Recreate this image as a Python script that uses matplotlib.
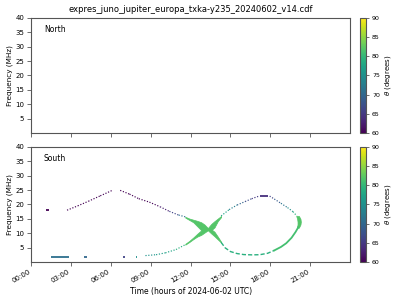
import matplotlib
matplotlib.use("Agg")
import matplotlib.pyplot as plt
from matplotlib.collections import LineCollection
from matplotlib.colors import Normalize
from matplotlib.cm import ScalarMappable
import numpy as np

title = "expres_juno_jupiter_europa_txka-y235_20240602_v14.cdf"
hour_ticks = [0, 3, 6, 9, 12, 15, 18, 21]
hour_labels = ["00:00", "03:00", "06:00", "09:00", "12:00", "15:00", "18:00", "21:00"]
freq_ticks = [5, 10, 15, 20, 25, 30, 35, 40]
theta_ticks = [60, 65, 70, 75, 80, 85, 90]

# short flat pieces: start hour, end hour, frequency (MHz), theta (deg)
dash_t0 = [1.1, 1.5, 4.0, 6.9, 7.9, 17.25]
dash_t1 = [1.35, 2.85, 4.2, 7.05, 7.98, 17.85]
dash_f = [18.2, 1.75, 1.6, 1.6, 1.75, 23.1]
dash_th = [60, 71, 70, 66, 75, 64]

# dotted branches (hour, MHz, theta)
ul1_t = [2.7, 3.5, 4.3, 5.2, 6.1]
ul1_f = [18.0, 19.5, 21.1, 23.0, 24.9]
ul1_th = [60, 60, 60, 60, 60]

ul2_t = [6.7, 7.4, 8.1, 8.9, 9.7, 10.4, 11.1, 11.6]
ul2_f = [24.9, 23.6, 22.0, 20.8, 19.2, 17.6, 16.3, 15.7]
ul2_th = [60, 60, 60, 60, 61, 64, 68, 74]

ll_t = [8.6, 9.4, 10.1, 10.9, 11.6]
ll_f = [2.2, 2.5, 3.15, 4.3, 6.0]
ll_th = [75, 76, 77, 78, 80]

ur1_t = [14.3, 14.9, 15.5, 16.1, 16.6, 17.15]
ur1_f = [16.0, 18.2, 19.8, 21.0, 22.0, 22.9]
ur1_th = [79, 75, 71, 68, 66, 64]

ur2_t = [17.95, 18.3, 18.8, 19.3, 19.7, 20.0]
ur2_f = [22.9, 21.9, 20.4, 18.9, 17.5, 16.0]
ur2_th = [65, 67, 70, 73, 77, 81]

# lower right arm
lr1_t = [14.3, 14.6, 15.0, 15.5, 16.0, 16.6, 17.2, 17.8, 18.3]
lr1_f = [6.8, 4.9, 3.6, 2.9, 2.55, 2.45, 2.5, 3.0, 4.0]
lr1_th = 79
lr2_t = [18.3, 18.8, 19.2, 19.6, 19.9, 20.1]
lr2_f = [4.0, 5.2, 6.5, 8.4, 10.4, 12.0]
lr2_th = 81

# thick crossing region near 13:20
lens_t = [11.6, 11.9, 12.2, 12.5, 12.8, 13.05, 13.3, 13.55, 13.8, 14.05, 14.3]
up_hi = [15.7, 15.1, 14.7, 14.3, 13.8, 13.0, 11.8, 13.2, 14.2, 15.1, 16.0]
up_lo = [15.4, 14.6, 13.8, 12.4, 11.0, 10.8, 11.2, 11.0, 12.0, 14.2, 15.6]
lo_lo = [6.0, 6.9, 7.9, 8.8, 9.4, 10.2, 11.0, 9.9, 8.9, 7.8, 6.7]
lo_hi = [6.3, 7.3, 8.5, 9.8, 11.0, 11.5, 11.6, 11.4, 10.5, 8.8, 7.0]
lens_th = 82

# thick right edge of the loop near 20:10
edge_f = [11.9, 13.0, 14.0, 15.0, 16.0]
edge_t0 = [20.0, 20.05, 20.05, 20.02, 19.95]
edge_t1 = [20.15, 20.27, 20.3, 20.27, 20.15]

cmap = plt.get_cmap("viridis")
norm = Normalize(vmin=60, vmax=90)
spine_col = "#555555"

fig = plt.figure(figsize=(4, 3), dpi=100)
ax_n = fig.add_axes([0.078, 0.557, 0.797, 0.383])
ax_s = fig.add_axes([0.078, 0.127, 0.797, 0.383])
cax_n = fig.add_axes([0.9, 0.557, 0.016, 0.383])
cax_s = fig.add_axes([0.9, 0.127, 0.016, 0.383])


def dotted(ax, t, f, th):
    pts = np.column_stack([t, f])
    segs = np.stack([pts[:-1], pts[1:]], axis=1)
    mid = (np.array(th[:-1]) + np.array(th[1:])) / 2
    lc = LineCollection(segs, colors=cmap(norm(mid)), linewidths=0.85,
                        linestyles=[(0, (1, 1.4))])
    ax.add_collection(lc)


for ax, name in [(ax_n, "North"), (ax_s, "South")]:
    ax.set_xlim(0, 24)
    ax.set_ylim(0, 40)
    ax.set_xticks(hour_ticks)
    ax.set_yticks(freq_ticks)
    ax.tick_params(labelsize=5, length=3, width=0.6, color=spine_col, pad=2)
    for sp in ax.spines.values():
        sp.set_color(spine_col)
        sp.set_linewidth(0.8)
    ax.set_ylabel("Frequency (MHz)", fontsize=5.2, labelpad=1.5)
    ax.text(0.04, 0.9, name, transform=ax.transAxes, fontsize=5.5, va="center")

ax_n.set_xticklabels([])
ax_s.set_xticklabels(hour_labels, rotation=30, ha="right")
ax_s.set_xlabel("Time (hours of 2024-06-02 UTC)", fontsize=5.5, labelpad=2)
ax_n.set_title(title, fontsize=6.0, pad=4)

# south emission
for t0, t1, f, th in zip(dash_t0, dash_t1, dash_f, dash_th):
    ax_s.hlines(f, t0, t1, colors=[cmap(norm(th))], linewidth=1.3)

dotted(ax_s, ul1_t, ul1_f, ul1_th)
dotted(ax_s, ul2_t, ul2_f, ul2_th)
dotted(ax_s, ll_t, ll_f, ll_th)
dotted(ax_s, ur1_t, ur1_f, ur1_th)
dotted(ax_s, ur2_t, ur2_f, ur2_th)

green = cmap(norm(lens_th))
ax_s.plot(lr1_t, lr1_f, color=cmap(norm(lr1_th)), lw=1.0, ls=(0, (3, 1.5)))
ax_s.plot(lr2_t, lr2_f, color=cmap(norm(lr2_th)), lw=1.3)
ax_s.fill_between(lens_t, up_lo, up_hi, color=green, lw=0.5, ec=green)
ax_s.fill_between(lens_t, lo_lo, lo_hi, color=green, lw=0.5, ec=green)
ax_s.fill_betweenx(edge_f, edge_t0, edge_t1, color=green, lw=0.5, ec=green)

for cax in (cax_n, cax_s):
    sm = ScalarMappable(norm=norm, cmap=cmap)
    cb = fig.colorbar(sm, cax=cax)
    cb.set_ticks(theta_ticks)
    cb.ax.tick_params(labelsize=4.5, length=2.5, width=0.6, color=spine_col, pad=1.5)
    cb.outline.set_edgecolor(spine_col)
    cb.outline.set_linewidth(0.8)
    cb.set_label(r"$\theta$ (degrees)", fontsize=5, labelpad=2)

fig.savefig("out.png", dpi=100)
